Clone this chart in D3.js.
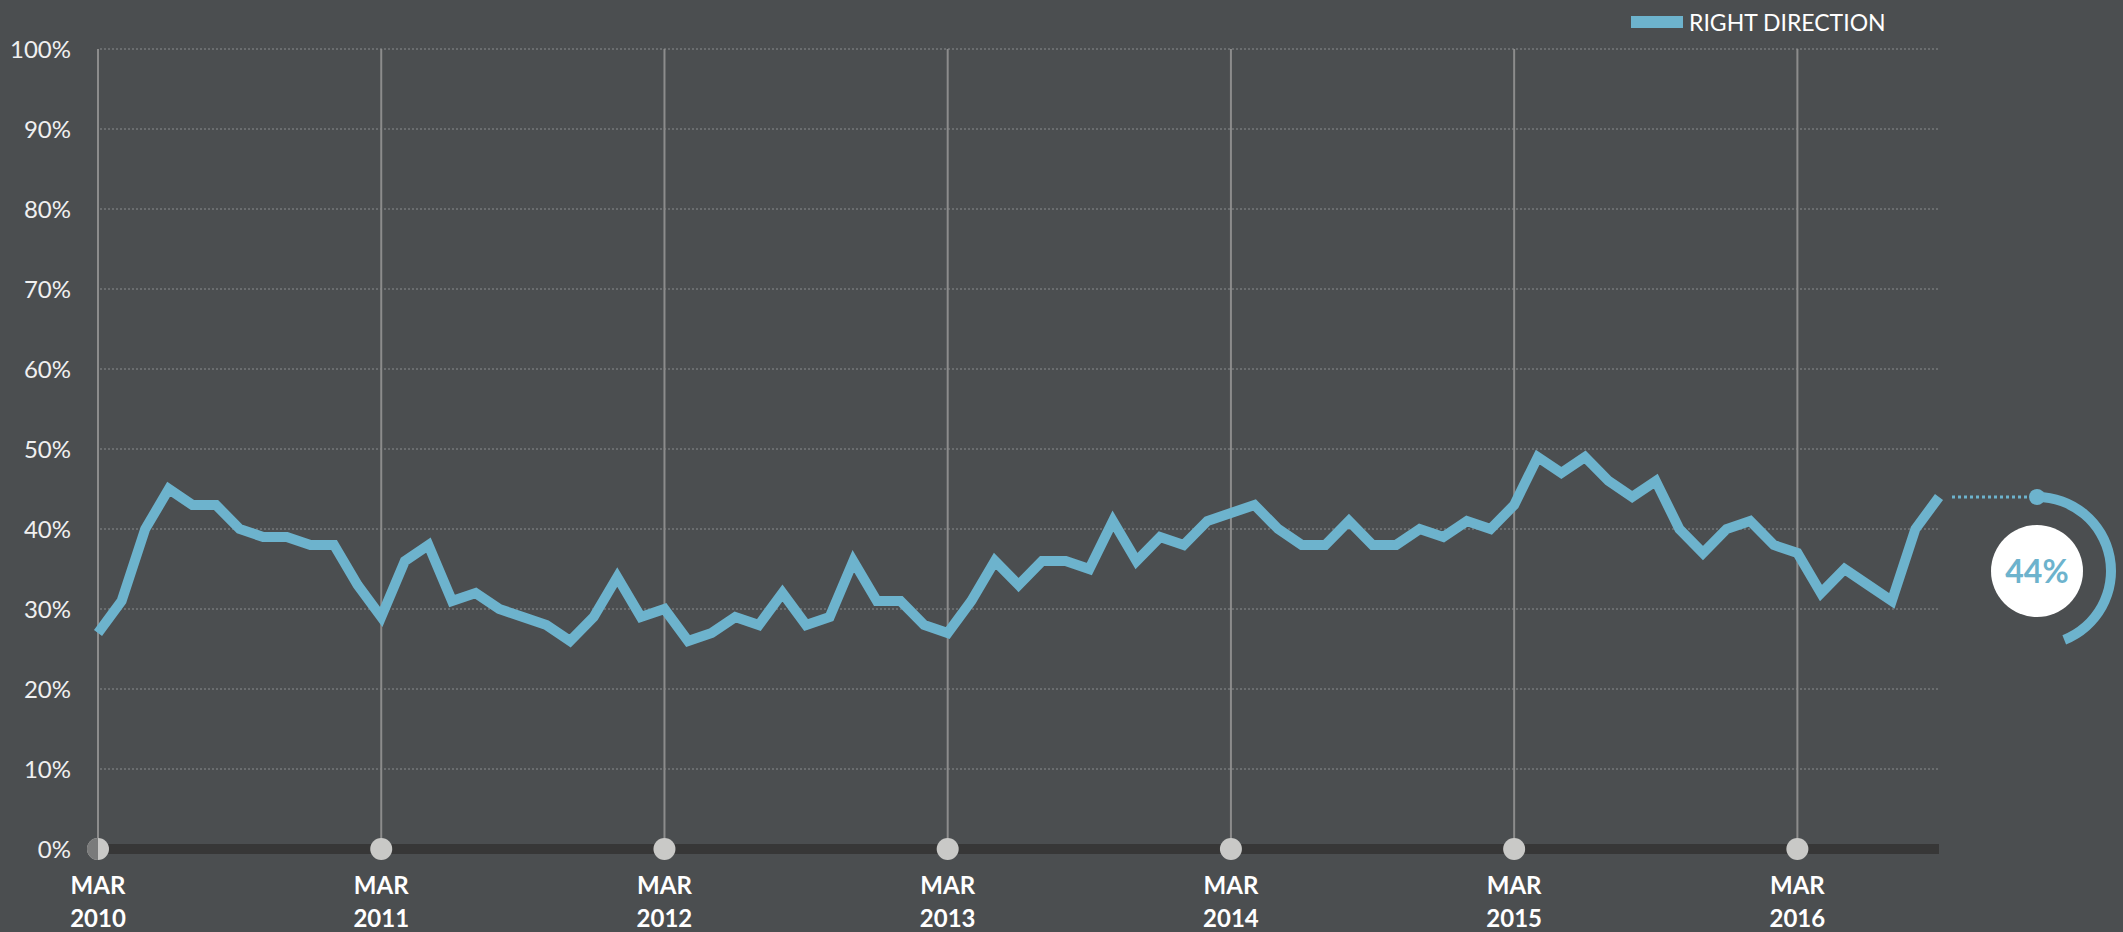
<!DOCTYPE html>
<html lang="en">
  <head>
    <meta charset='utf-8'>
    <script type="text/javascript" src="https://cdn.jsdelivr.net/npm/d3@7"></script>
    <title>Right Direction</title>
    <style>
      body{margin:0;background:#4b4e50;}
      svg{display:block;}
    </style>
  </head>
  <body>
    <div id="mainDiv"></div>
    <script type="text/javascript">
      //Monthly values, Mar 2010 to Sep 2016
      var startYear=2010;
      var startMonth=2; //March
      var rightDirection=[27,31,40,45,43,43,40,39,39,38,38,33,
                          29,36,38,31,32,30,29,28,26,29,34,29,
                          30,26,27,29,28,32,28,29,36,31,31,28,
                          27,31,36,33,36,36,35,41,36,39,38,41,
                          42,43,40,38,38,41,38,38,40,39,41,40,
                          43,49,47,49,46,44,46,40,37,40,41,38,
                          37,32,35,33,31,40,44];
      var yTicks=[0,10,20,30,40,50,60,70,80,90,100];
      var seriesName="RIGHT DIRECTION";
      var lineColor="#6db3cd";

      var w=2123, h=932;
      var svg=d3.select("#mainDiv")
        .append("svg")
        .attr("width",w)
        .attr("height",h)
        .style("background","#4b4e50");

      var x=d3.scaleLinear().domain([0,rightDirection.length-1]).range([98,1939]);
      var y=d3.scaleLinear().domain([0,100]).range([849,49]);

      //March positions
      var marchIdx=d3.range(0,rightDirection.length,12);

      //Dotted gridlines
      svg.selectAll(".grid")
        .data(yTicks.filter(function(d){return d>0;}))
        .enter()
        .append("line")
        .attr("class","grid")
        .attr("x1",x(0)+2)
        .attr("x2",x.range()[1])
        .attr("y1",function(d){return y(d);})
        .attr("y2",function(d){return y(d);})
        .attr("stroke","#76787a")
        .attr("stroke-width",1.5)
        .attr("stroke-dasharray","2,2");

      //Y labels
      svg.selectAll(".ylab")
        .data(yTicks)
        .enter()
        .append("text")
        .attr("class","ylab")
        .attr("x",71)
        .attr("y",function(d){return y(d);})
        .attr("dy","0.36em")
        .attr("text-anchor","end")
        .attr("fill","#f0f0f0")
        .attr("style","font-family:Lato;font-size:24px")
        .text(function(d){return d+"%";});

      //Vertical March lines
      svg.selectAll(".vline")
        .data(marchIdx)
        .enter()
        .append("line")
        .attr("class","vline")
        .attr("x1",function(d){return x(d);})
        .attr("x2",function(d){return x(d);})
        .attr("y1",y(100))
        .attr("y2",y(0))
        .attr("stroke","#8c8c8c")
        .attr("stroke-width",2);

      //Baseline bar
      svg.append("rect")
        .attr("x",x(0))
        .attr("y",y(0)-5)
        .attr("width",x.range()[1]-x(0))
        .attr("height",10)
        .attr("fill","#373737");

      //March dots
      svg.selectAll(".mdot")
        .data(marchIdx)
        .enter()
        .append("circle")
        .attr("class","mdot")
        .attr("cx",function(d){return x(d);})
        .attr("cy",y(0))
        .attr("r",11)
        .attr("fill","#c9c9c7");
      //left half of first dot is darker
      svg.append("path")
        .attr("d",d3.arc().innerRadius(0).outerRadius(11).startAngle(Math.PI).endAngle(2*Math.PI)())
        .attr("transform","translate("+x(0)+","+y(0)+")")
        .attr("fill","#7a7b7b");

      //X labels
      var xl=svg.selectAll(".xlab")
        .data(marchIdx)
        .enter()
        .append("text")
        .attr("class","xlab")
        .attr("x",function(d){return x(d);})
        .attr("text-anchor","middle")
        .attr("fill","#ffffff")
        .attr("style","font-family:Lato;font-weight:bold;font-size:24px");
      xl.append("tspan")
        .attr("x",function(d){return x(d);})
        .attr("y",894)
        .text("MAR");
      xl.append("tspan")
        .attr("x",function(d){return x(d);})
        .attr("y",927)
        .text(function(d){return startYear+Math.floor((startMonth+d)/12);});

      //Series line
      var line=d3.line()
        .x(function(d,i){return x(i);})
        .y(function(d){return y(d);});
      svg.append("path")
        .datum(rightDirection)
        .attr("d",line)
        .attr("fill","none")
        .attr("stroke",lineColor)
        .attr("stroke-width",10)
        .attr("stroke-linejoin","miter");

      //Legend
      svg.append("rect")
        .attr("x",1631)
        .attr("y",16)
        .attr("width",52)
        .attr("height",12)
        .attr("fill",lineColor);
      svg.append("text")
        .attr("x",1689)
        .attr("y",31)
        .attr("fill","#ffffff")
        .attr("style","font-family:Lato;font-size:23px")
        .text(seriesName);

      //Latest value callout
      var last=rightDirection[rightDirection.length-1];
      var ly=y(last);
      var cx=2037, cy=ly+74;
      svg.append("line")
        .attr("x1",x.range()[1]+13)
        .attr("x2",cx-8)
        .attr("y1",ly)
        .attr("y2",ly)
        .attr("stroke",lineColor)
        .attr("stroke-width",3)
        .attr("stroke-dasharray","3,3");
      svg.append("path")
        .attr("d",d3.arc().innerRadius(69).outerRadius(79).startAngle(0).endAngle(2*Math.PI*last/100)())
        .attr("transform","translate("+cx+","+cy+")")
        .attr("fill",lineColor);
      svg.append("circle")
        .attr("cx",cx)
        .attr("cy",cy-74)
        .attr("r",8)
        .attr("fill",lineColor);
      svg.append("circle")
        .attr("cx",cx)
        .attr("cy",cy)
        .attr("r",46)
        .attr("fill","#ffffff");
      svg.append("text")
        .attr("x",cx)
        .attr("y",cy)
        .attr("dy","0.36em")
        .attr("text-anchor","middle")
        .attr("fill",lineColor)
        .attr("style","font-family:Lato;font-weight:bold;font-size:32px")
        .text(last+"%");
    </script>
  </body>
</html>
